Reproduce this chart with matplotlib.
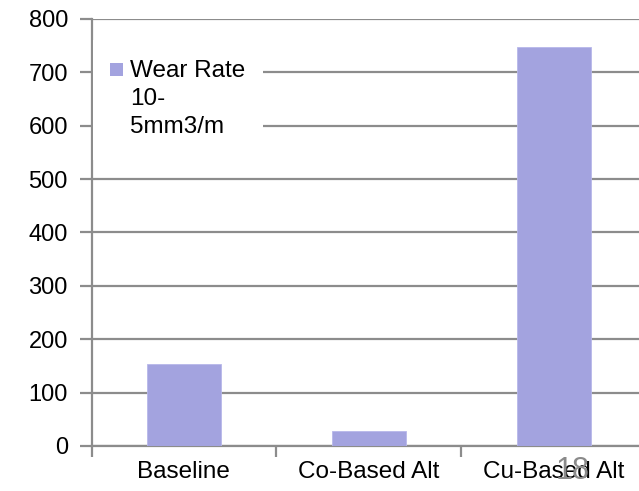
import matplotlib
matplotlib.use("Agg")
import matplotlib.pyplot as plt
from matplotlib.patches import Rectangle

categories = ["Baseline", "Co-Based Alt", "Cu-Based Alt"]
wear_rate = [154, 29, 747]
yticks = [0, 100, 200, 300, 400, 500, 600, 700, 800]
legend_label = "Wear Rate\n10-\n5mm3/m"

plt.rcParams['font.family'] = ['Liberation Sans', 'DejaVu Sans']

W, H = 639, 491
fig = plt.figure(figsize=(W / 100, H / 100), dpi=100)
left, right, bottom, top = 91.5 / W, 646 / W, 1 - 446 / H, 1 - 19 / H
ax = fig.add_axes([left, bottom, right - left, top - bottom])

bar_color = "#A3A3DF"
grid_color = "#8C8C8C"
x = list(range(len(categories)))
ax.bar(x, wear_rate, width=0.4, color=bar_color, edgecolor="#B8B8EA", linewidth=0.6, zorder=3)

ax.set_xlim(-0.5, len(categories) - 0.5)
ax.set_ylim(0, 800)
ax.set_yticks(yticks)
ax.set_yticklabels([str(v) for v in yticks], fontsize=17)
ax.yaxis.grid(True, color=grid_color, linewidth=1.6, zorder=0)
ax.set_axisbelow(True)

# category labels at centers, ticks at boundaries
ax.set_xticks([i - 0.5 for i in range(len(categories) + 1)])
ax.set_xticklabels([""] * (len(categories) + 1))
ax.set_xticks(x, minor=True)
ax.set_xticklabels(categories, minor=True, fontsize=17.5)
ax.tick_params(axis='x', which='minor', length=0, pad=11)
ax.tick_params(axis='x', which='major', length=8, width=1.6, color=grid_color, direction='out')
ax.tick_params(axis='y', length=9, width=1.6, color=grid_color, pad=8)

for side in ["top", "right"]:
    ax.spines[side].set_visible(False)
for side in ["left", "bottom"]:
    ax.spines[side].set_color(grid_color)
    ax.spines[side].set_linewidth(1.6)

# legend drawn as a white box with a swatch and label (figure pixel placement)
def fx(px):
    return px / W

def fy(py):
    return 1 - py / H

fig.patches.append(Rectangle((fx(93), fy(160)), fx(263) - fx(93), fy(40) - fy(160),
                             transform=fig.transFigure, facecolor="white",
                             edgecolor="none", zorder=1))
fig.patches.append(Rectangle((fx(110), fy(76)), fx(123) - fx(110), fy(63) - fy(76),
                             transform=fig.transFigure, facecolor=bar_color,
                             edgecolor="none", zorder=2))
fig.text(fx(130), fy(60), legend_label, fontsize=17.5, ha="left", va="top",
         linespacing=1.36, zorder=3)

fig.text(fx(573), fy(471), "18", color="#8A8A8A", fontsize=22, ha="center", va="center")

fig.savefig("out.png", dpi=100)
